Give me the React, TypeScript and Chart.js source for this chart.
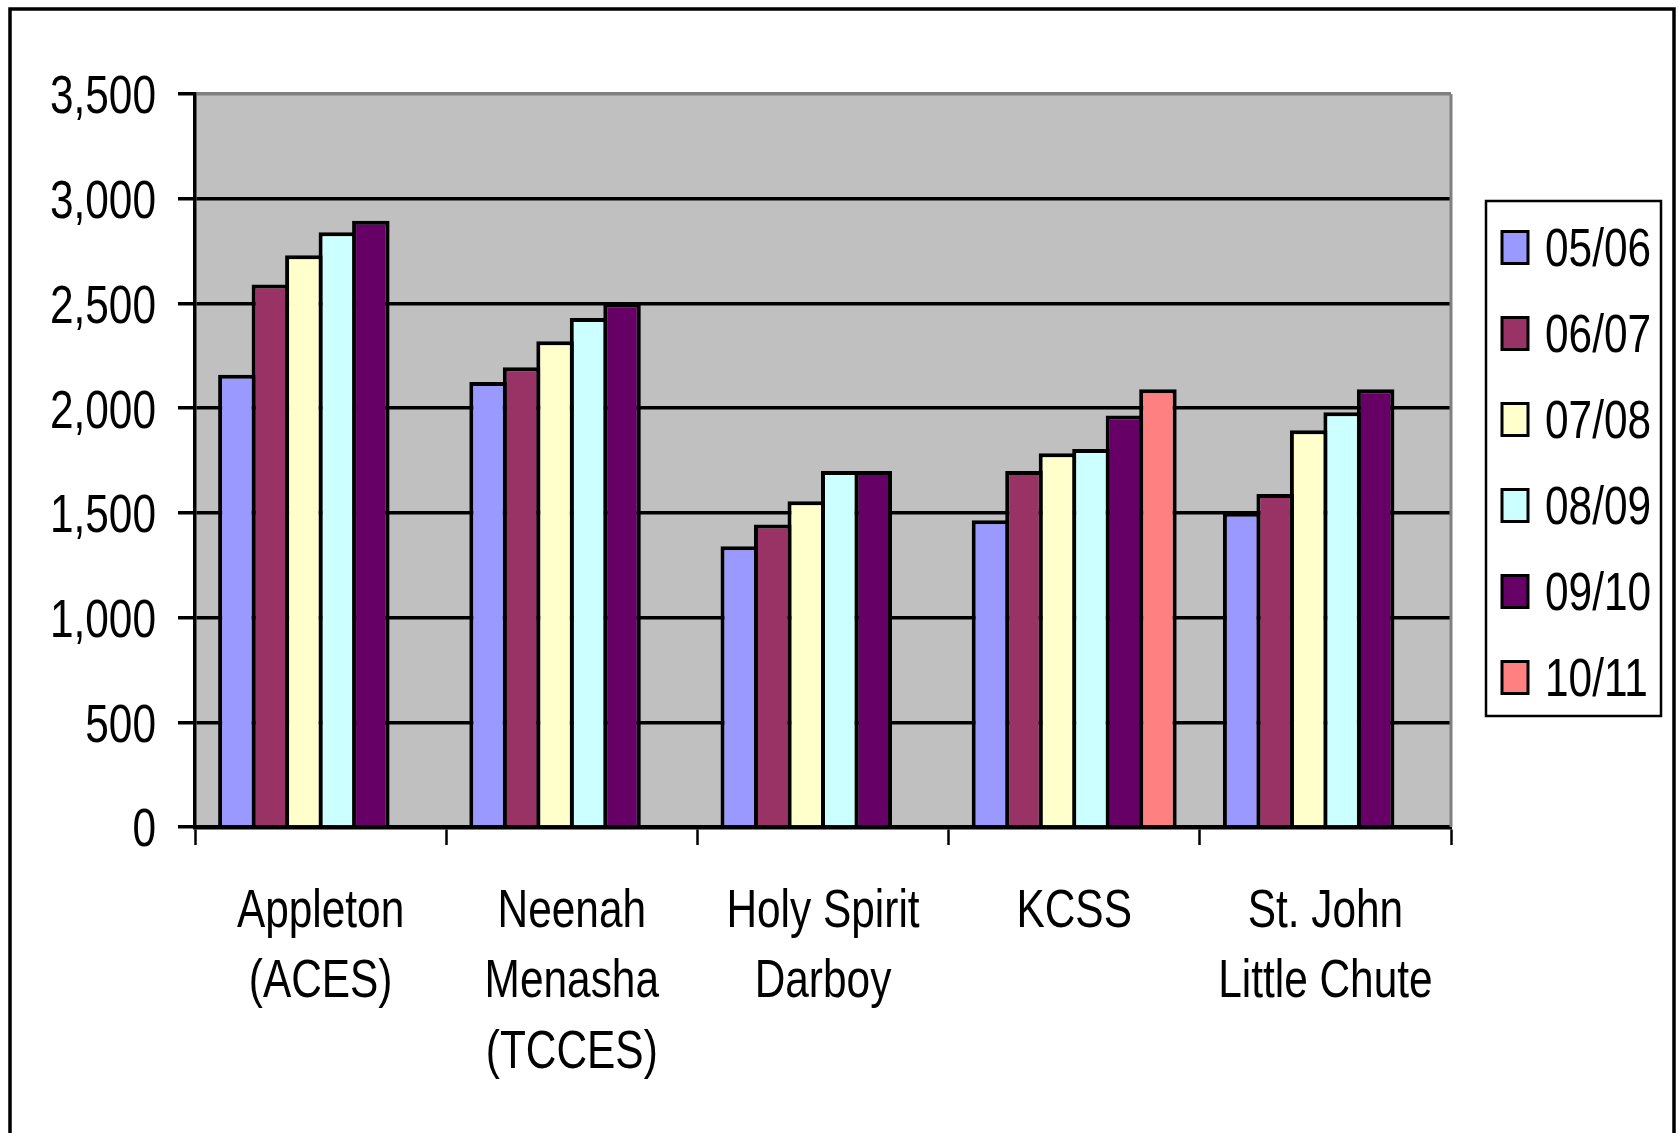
import React, { useEffect, useRef } from "react";
import { Chart, registerables } from "chart.js";

Chart.register(...registerables);

const categories: string[][] = [
  ["Appleton", "(ACES)"],
  ["Neenah", "Menasha", "(TCCES)"],
  ["Holy Spirit", "Darboy"],
  ["KCSS"],
  ["St. John", "Little Chute"],
];

const seriesLabels = ["05/06", "06/07", "07/08", "08/09", "09/10", "10/11"];

const s0506 = [2160, 2125, 1340, 1465, 1500];
const s0607 = [2590, 2195, 1445, 1700, 1590];
const s0708 = [2730, 2320, 1555, 1785, 1895];
const s0809 = [2840, 2430, 1700, 1805, 1980];
const s0910 = [2895, 2500, 1700, 1965, 2090];
const s1011 = [null, null, null, 2090, null];

const seriesColors = ["#9999FF", "#993366", "#FFFFCC", "#CCFFFF", "#660066", "#FF8080"];

const yTicks = [0, 500, 1000, 1500, 2000, 2500, 3000, 3500];

const FONT = "'Liberation Sans', Arial, sans-serif";
const FONT_SIZE = 54;
const SX = 0.785; // horizontal condensation to mimic Arial Narrow

const W = 1679;
const H = 1133;

function narrowText(ctx: any, text: string, x: number, y: number, align: string) {
  ctx.save();
  ctx.translate(x, y);
  ctx.scale(SX, 1);
  ctx.textAlign = align;
  ctx.textBaseline = "middle";
  ctx.fillText(text, 0, 0);
  ctx.restore();
}

const framePlugin = {
  id: "frame",
  beforeDraw(chart: any) {
    const { ctx, chartArea } = chart;
    ctx.save();
    ctx.fillStyle = "#ffffff";
    ctx.fillRect(0, 0, chart.width, chart.height);
    ctx.fillStyle = "#C0C0C0";
    ctx.fillRect(chartArea.left, chartArea.top, chartArea.right - chartArea.left, chartArea.bottom - chartArea.top);
    ctx.strokeStyle = "#000";
    ctx.lineWidth = 3.5;
    ctx.strokeRect(10, 9, 1664, 1300);
    ctx.restore();
  },
  afterDraw(chart: any) {
    const { ctx, chartArea } = chart;
    ctx.save();
    // right border of plot area
    ctx.strokeStyle = "#808080";
    ctx.lineWidth = 3;
    ctx.beginPath();
    ctx.moveTo(chartArea.right, chartArea.top);
    ctx.lineTo(chartArea.right, chartArea.bottom);
    ctx.stroke();

    ctx.fillStyle = "#000";
    ctx.font = `${FONT_SIZE}px ${FONT}`;

    // y tick labels
    const ys = chart.scales.y;
    ys.ticks.forEach((t: any) => {
      const py = ys.getPixelForValue(t.value);
      narrowText(ctx, Number(t.value).toLocaleString("en-US"), 156, py + 4.5, "right");
    });

    // x tick labels
    const xs = chart.scales.x;
    const labels = chart.data.labels as string[][];
    labels.forEach((lines, i) => {
      const px = xs.getPixelForValue(i);
      lines.forEach((line, j) => {
        narrowText(ctx, line, px, 912.3 + j * 70.2, "center");
      });
    });

    // legend
    ctx.strokeStyle = "#000";
    ctx.lineWidth = 2.5;
    ctx.strokeRect(1486, 201, 175, 515);
    chart.data.datasets.forEach((ds: any, i: number) => {
      const cy = 247.5 + i * 86;
      ctx.fillStyle = ds.backgroundColor;
      ctx.fillRect(1502, cy - 16, 26, 32);
      ctx.strokeStyle = "#000";
      ctx.lineWidth = 3;
      ctx.strokeRect(1502, cy - 16, 26, 32);
      ctx.fillStyle = "#000";
      narrowText(ctx, ds.label, 1545, cy + 3.2, "left");
    });
    ctx.restore();
  },
};

export default function App() {
  const ref = useRef<HTMLCanvasElement | null>(null);

  useEffect(() => {
    if (!ref.current) return;
    const seriesData = [s0506, s0607, s0708, s0809, s0910, s1011];
    const chart = new Chart(ref.current, {
      type: "bar",
      data: {
        labels: categories,
        datasets: seriesLabels.map((label, i) => ({
          label,
          data: seriesData[i] as any,
          backgroundColor: seriesColors[i],
          borderColor: "#000",
          borderWidth: 4,
          borderSkipped: "bottom",
          categoryPercentage: 0.8,
          barPercentage: 1.12,
        })),
      },
      options: {
        responsive: false,
        animation: false,
        devicePixelRatio: 1,
        layout: { padding: { left: 10, right: 228, top: 94, bottom: 56 } },
        plugins: {
          legend: { display: false },
          tooltip: { enabled: false },
          title: { display: false },
        },
        scales: {
          x: {
            afterFit: (scale: any) => {
              scale.height = 250;
            },
            grid: {
              display: true,
              offset: true,
              drawOnChartArea: false,
              drawTicks: true,
              tickLength: 18,
              tickColor: "#000",
              tickWidth: 2.5,
            },
            border: { display: true, color: "#000", width: 4.5 },
            ticks: {
              color: "rgba(0,0,0,0)",
              padding: 31,
              maxRotation: 0,
              autoSkip: false,
              font: { family: FONT, size: FONT_SIZE, lineHeight: 1.3 },
            },
          },
          y: {
            min: 0,
            max: 3500,
            afterFit: (scale: any) => {
              scale.width = 185;
            },
            afterBuildTicks: (scale: any) => {
              scale.ticks = yTicks.map((v) => ({ value: v }));
            },
            grid: {
              color: (ctx: any) => (ctx.tick && ctx.tick.value === 3500 ? "#808080" : "#000"),
              lineWidth: 3.5,
              drawTicks: true,
              tickLength: 17,
              tickColor: "#000",
              tickWidth: 3.5,
            },
            border: { display: true, color: "#000", width: 3.5 },
            ticks: {
              color: "rgba(0,0,0,0)",
              padding: 20,
              font: { family: FONT, size: FONT_SIZE },
              callback: (v: any) => Number(v).toLocaleString("en-US"),
            },
          },
        },
      },
      plugins: [framePlugin],
    });
    return () => chart.destroy();
  }, []);

  return (
    <div style={{ position: "absolute", left: 0, top: 0, width: W, height: H, background: "#fff" }}>
      <canvas ref={ref} width={W} height={H} style={{ display: "block", width: W, height: H }} />
    </div>
  );
}
